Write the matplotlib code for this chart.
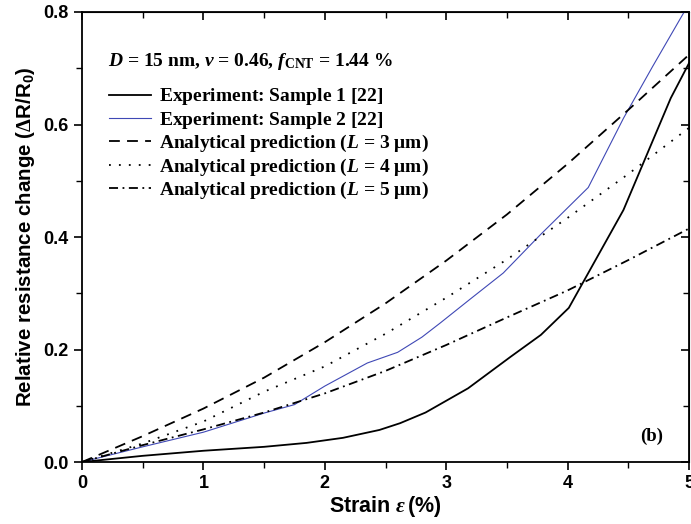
import matplotlib

matplotlib.use("Agg")
import matplotlib.pyplot as plt
from matplotlib.ticker import MultipleLocator, FormatStrFormatter

plt.rcParams["font.family"] = "Liberation Sans"
plt.rcParams["mathtext.fontset"] = "custom"
plt.rcParams["mathtext.rm"] = "Liberation Serif:bold"
plt.rcParams["mathtext.it"] = "Liberation Serif:italic:bold"
plt.rcParams["mathtext.bf"] = "Liberation Serif:bold"
plt.rcParams["mathtext.sf"] = "Liberation Sans:bold"

# experiment curves
s1_x = [0, 0.5, 1.0, 1.5, 1.85, 2.15, 2.45, 2.62, 2.83, 3.18, 3.53, 3.78, 4.01, 4.46, 4.85, 5.0]
s1_y = [0, 0.011, 0.020, 0.027, 0.034, 0.043, 0.057, 0.069, 0.088, 0.131, 0.187, 0.226, 0.274,
        0.448, 0.647, 0.709]

s2_x = [0, 0.5, 1.0, 1.5, 1.75, 2.0, 2.35, 2.6, 2.8, 2.95, 3.2, 3.47, 3.78, 4.17, 4.46, 4.7, 4.96]
s2_y = [0, 0.027, 0.053, 0.087, 0.102, 0.135, 0.176, 0.195, 0.222, 0.247, 0.290, 0.336, 0.405,
        0.488, 0.611, 0.703, 0.800]

# analytical predictions
strain = [0, 0.5, 1.0, 1.5, 2.0, 2.5, 3.0, 3.5, 4.0, 4.5, 5.0]
pred_L3 = [0, 0.046, 0.095, 0.150, 0.213, 0.282, 0.358, 0.440, 0.530, 0.626, 0.724]
pred_L4 = [0, 0.033, 0.072, 0.125, 0.170, 0.228, 0.292, 0.360, 0.434, 0.512, 0.594]
pred_L5 = [0, 0.030, 0.058, 0.088, 0.122, 0.162, 0.208, 0.257, 0.305, 0.359, 0.415]

# all labels go through mathtext so the legend rows get the same height
labels = [
    r"Experiment: Sample 1 [22]$\mathrm{}$",
    r"Experiment: Sample 2 [22]$\mathrm{}$",
    r"Analytical prediction ($L$ = 3 $\mathrm{\mu m}$)",
    r"Analytical prediction ($L$ = 4 $\mathrm{\mu m}$)",
    r"Analytical prediction ($L$ = 5 $\mathrm{\mu m}$)",
]

fig = plt.figure(figsize=(6.91, 5.24), dpi=100)
ax = fig.add_axes([0.1187, 0.1183, 0.8784, 0.8588])

ax.plot(s1_x, s1_y, color="black", lw=1.3, label=labels[0])
ax.plot(s2_x, s2_y, color="#3f48b5", lw=0.8, label=labels[1])
ax.plot(strain, pred_L3, color="black", lw=1.3, dashes=(6, 4), label=labels[2])
ax.plot(strain, pred_L4, color="black", lw=1.3, dashes=(1, 4.5), label=labels[3])
ax.plot(strain, pred_L5, color="black", lw=1.3, dashes=(5, 2.5, 1, 2.5), label=labels[4])

ax.set_xlim(0, 5)
ax.set_ylim(0, 0.8)
ax.xaxis.set_major_locator(MultipleLocator(1))
ax.xaxis.set_minor_locator(MultipleLocator(0.5))
ax.yaxis.set_major_locator(MultipleLocator(0.2))
ax.yaxis.set_minor_locator(MultipleLocator(0.1))
ax.xaxis.set_major_formatter(FormatStrFormatter("%d"))
ax.yaxis.set_major_formatter(FormatStrFormatter("%.1f"))
ax.tick_params(which="major", direction="out", length=6, width=1.2, labelsize=13)
ax.tick_params(which="minor", direction="out", length=4, width=1.0)
for lab in ax.get_xticklabels() + ax.get_yticklabels():
    lab.set_fontweight("bold")
for sp in ax.spines.values():
    sp.set_linewidth(1.3)

# inward ticks on top and right
top = ax.secondary_xaxis("top")
top.xaxis.set_major_locator(MultipleLocator(1))
top.xaxis.set_minor_locator(MultipleLocator(0.5))
top.tick_params(which="major", direction="in", length=6, width=1.2, labeltop=False)
top.tick_params(which="minor", direction="in", length=4, width=1.0)
right = ax.secondary_yaxis("right")
right.yaxis.set_major_locator(MultipleLocator(0.2))
right.yaxis.set_minor_locator(MultipleLocator(0.1))
right.tick_params(which="major", direction="in", length=6, width=1.2, labelright=False)
right.tick_params(which="minor", direction="in", length=4, width=1.0)

ax.set_xlabel(r"Strain $\varepsilon\,$(%)", fontsize=15.5, fontweight="bold", labelpad=1)
ax.set_ylabel(r"Relative resistance change ($\Delta$R/R$_{\mathsf{0}}$)",
              fontsize=14.8, fontweight="bold", labelpad=5)

ax.text(0.043, 0.891, r"$D$ = 15 nm, $\nu$ = 0.46, $f_{\mathrm{CNT}}$ = 1.44 %",
        transform=ax.transAxes, fontsize=14, family="Liberation Serif", fontweight="bold",
        va="center")

leg = ax.legend(loc="upper left", bbox_to_anchor=(0.022, 0.865), frameon=False,
                handlelength=2.15, handletextpad=0.4, labelspacing=0.12, borderpad=0.2,
                prop={"family": "Liberation Serif", "weight": "bold", "size": 14})

ax.text(4.6, 0.045, "(b)", fontsize=13.5, family="Liberation Serif", fontweight="bold",
        va="center")

fig.savefig("out.png", dpi=100)
